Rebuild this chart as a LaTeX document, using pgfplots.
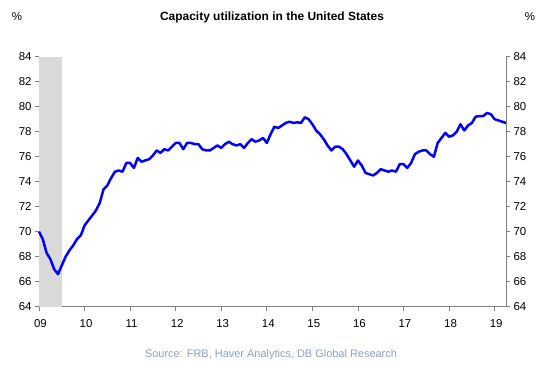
\documentclass[border=0pt]{standalone}
\usepackage{pgfplots}
\pgfplotsset{compat=1.18}
\usepackage{fontspec}
\setmainfont{Liberation Sans}
\definecolor{axgray}{RGB}{128,128,128}
\definecolor{shade}{RGB}{217,217,217}
\definecolor{srcblue}{RGB}{141,160,190}
\pgfplotstableread{
x y
2009.000 70.0
2009.083 69.4
2009.167 68.3
2009.250 67.8
2009.333 67.0
2009.417 66.6
2009.500 67.3
2009.583 68.0
2009.667 68.5
2009.750 68.9
2009.833 69.4
2009.917 69.7
2010.000 70.5
2010.083 70.9
2010.167 71.3
2010.250 71.7
2010.333 72.3
2010.417 73.4
2010.500 73.7
2010.583 74.3
2010.667 74.8
2010.750 74.9
2010.833 74.8
2010.917 75.5
2011.000 75.5
2011.083 75.1
2011.167 75.9
2011.250 75.6
2011.333 75.7
2011.417 75.8
2011.500 76.1
2011.583 76.5
2011.667 76.3
2011.750 76.6
2011.833 76.5
2011.917 76.8
2012.000 77.1
2012.083 77.1
2012.167 76.6
2012.250 77.1
2012.333 77.1
2012.417 77.0
2012.500 77.0
2012.583 76.6
2012.667 76.5
2012.750 76.5
2012.833 76.7
2012.917 76.9
2013.000 76.7
2013.083 77.0
2013.167 77.2
2013.250 77.0
2013.333 76.9
2013.417 77.0
2013.500 76.7
2013.583 77.1
2013.667 77.4
2013.750 77.2
2013.833 77.3
2013.917 77.5
2014.000 77.1
2014.083 77.8
2014.167 78.4
2014.250 78.3
2014.333 78.5
2014.417 78.7
2014.500 78.8
2014.583 78.7
2014.667 78.75
2014.750 78.7
2014.833 79.15
2014.917 79.0
2015.000 78.6
2015.083 78.1
2015.167 77.8
2015.250 77.4
2015.333 76.9
2015.417 76.5
2015.500 76.8
2015.583 76.8
2015.667 76.6
2015.750 76.2
2015.833 75.7
2015.917 75.2
2016.000 75.7
2016.083 75.3
2016.167 74.7
2016.250 74.6
2016.333 74.5
2016.417 74.7
2016.500 75.0
2016.583 74.9
2016.667 74.8
2016.750 74.9
2016.833 74.8
2016.917 75.4
2017.000 75.4
2017.083 75.1
2017.167 75.5
2017.250 76.2
2017.333 76.4
2017.417 76.5
2017.500 76.5
2017.583 76.2
2017.667 76.0
2017.750 77.1
2017.833 77.5
2017.917 77.9
2018.000 77.6
2018.083 77.7
2018.167 78.0
2018.250 78.6
2018.333 78.1
2018.417 78.5
2018.500 78.7
2018.583 79.2
2018.667 79.25
2018.750 79.25
2018.833 79.5
2018.917 79.4
2019.000 79.0
2019.083 78.9
2019.167 78.8
2019.250 78.7
}\cudata
\begin{document}
\begin{tikzpicture}[x=1bp,y=1bp]
\useasboundingbox (0,0) rectangle (550,364);
\pgfplotsset{
  common/.style={
    at={(39bp,57.3bp)}, anchor=south west,
    scale only axis, width=467bp, height=250bp,
    xmin=2009, xmax=2019.25, ymin=64, ymax=84,
    ytick={64,66,...,84},
    axis line style={axgray, line width=0.8bp},
    tick style={axgray, line width=0.8bp},
    major tick length=4bp,
    tick align=outside,
    tick label style={font=\fontsize{11.5}{13}\selectfont, black},
    /pgf/number format/assume math mode=true,
    clip=false,
  }
}
\begin{axis}[common,
  axis x line*=bottom, axis y line*=left,
  xtick={2009,2010,...,2019},
  xticklabels={09,10,11,12,13,14,15,16,17,18,19},
  xticklabel style={yshift=-5bp, xshift=1.5bp},
]
\addplot[fill=shade, draw=none] coordinates {(2009,64) (2009.5,64) (2009.5,84) (2009,84)} -- cycle;
\addplot[blue, line width=2.5bp, line join=round] table[x=x,y=y] {\cudata};
\end{axis}
\begin{axis}[common,
  axis y line*=right, axis x line=none,
]
\end{axis}
\node[font=\bfseries\fontsize{12}{14}\selectfont] at (272,347) {Capacity utilization in the United States};
\node[font=\fontsize{11.5}{13}\selectfont] at (17,347) {\%};
\node[font=\fontsize{11.5}{13}\selectfont] at (530,347) {\%};
\node[font=\fontsize{11}{13}\selectfont, text=srcblue] at (271,9) {Source: FRB, Haver Analytics, DB Global Research};
\end{tikzpicture}
\end{document}
